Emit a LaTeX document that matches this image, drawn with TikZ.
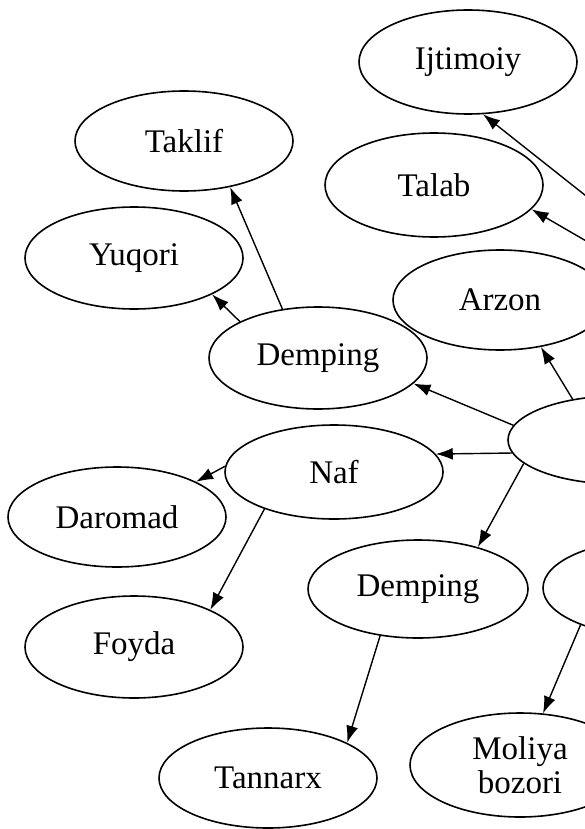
\documentclass[tikz,border=0pt]{standalone}
\usepackage{fontspec}
\setmainfont{Liberation Serif}
\usetikzlibrary{shapes.geometric,arrows.meta}

\begin{document}
\begin{tikzpicture}[x=1pt, y=-1pt,
  oval/.style={draw, line width=1.6pt, ellipse, inner sep=0pt,
    minimum width=218pt, minimum height=100pt,
    font=\fontsize{33}{34}\selectfont, align=center},
  arr/.style={line width=1.4pt, -{Latex[length=17pt,width=12pt]}}]
% frame of the page (the picture is cut at the right edge)
\useasboundingbox (0,0) rectangle (585,829);
\clip (0,0) rectangle (585,829);
% upper row
\node[oval, minimum height=104pt] (ijtimoiy) at (468,62) {Ijtimoiy};
\node[oval] (taklif) at (184,141) {Taklif};
\node[oval, minimum height=104pt] (talab) at (434,185) {Talab};
\node[oval, minimum height=102pt] (yuqori) at (134,258) {Yuqori};
\node[oval, minimum width=214pt] (arzon) at (500,300) {Arzon};
\node[oval, minimum height=102pt] (dempA) at (318,358) {Demping};
% middle: the cut-off centre
\node[oval, minimum width=220pt, minimum height=88pt] (markaz) at (618,440) {};
\node[oval, minimum height=94pt] (naf) at (334,472) {Naf};
\node[oval] (daromad) at (117,517) {Daromad};
\node[oval, minimum width=220pt, minimum height=98pt] (dempB) at (418,589) {Demping};
\node[oval, minimum width=220pt, minimum height=96pt] (bozor) at (653,588) {};
% lower row
\node[oval, minimum height=102pt] (foyda) at (134,647) {Foyda};
\node[oval] (tannarx) at (268,778) {Tannarx};
\node[oval, minimum width=220pt, minimum height=104pt] (moliya) at (520,765) {Moliya\\bozori};
% free ends from outside the page
\coordinate (tashA) at (600,207);
\coordinate (tashB) at (600,249);
% connectors
\draw[arr] (tashA) -- (ijtimoiy.-74);
\draw[arr] (tashB) -- (talab.-14);
\draw[arr] (markaz.138) -- (arzon.-49);
\draw[arr] (markaz.172) -- (dempA.-15);
\draw[arr] (markaz.187) -- (naf.10);
\draw[arr] (markaz.194) -- (dempB.35);
\draw[arr] (dempA.126) -- (taklif.-45);
\draw[arr] (dempA.155) -- (yuqori.-25);
\draw[arr] (naf.177) -- (daromad.24);
\draw[arr] (naf.208) -- (foyda.26);
\draw[arr] (dempB.231) -- (tannarx.24);
\draw[arr] (bozor.207) -- (moliya.66);
\end{tikzpicture}
\end{document}
